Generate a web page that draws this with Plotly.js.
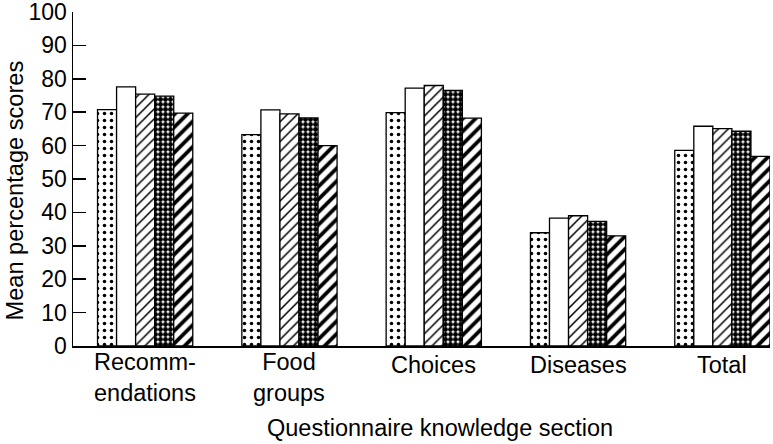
<!DOCTYPE html>
<html>
<head>
<meta charset="utf-8">
<script src="https://cdn.plot.ly/plotly-3.0.1.min.js"></script>
<style>
  html, body { margin: 0; padding: 0; background: #fff; }
  #chart { width: 773px; height: 444px; }
</style>
</head>
<body>
<div id="chart"></div>
<script>
// knowledge sections on the x axis
var sections = ['Recommendations', 'Food groups', 'Choices', 'Diseases', 'Total'];
// printed labels as they are split in the figure
var sectionLabels = ['Recomm-<br>endations', 'Food<br>groups', 'Choices', 'Diseases', 'Total'];

// mean percentage scores, one array per bar in each group (left to right)
var group1 = [70.8, 63.3, 69.9, 33.9, 58.6];
var group2 = [77.6, 70.7, 77.2, 38.3, 65.8];
var group3 = [75.4, 69.5, 78.0, 39.0, 65.1];
var group4 = [74.8, 68.3, 76.5, 37.3, 64.3];
var group5 = [69.7, 60.0, 68.2, 33.0, 56.8];

var yTicks = [0, 10, 20, 30, 40, 50, 60, 70, 80, 90, 100];

var outline = {color: '#000', width: 1.3};

function barTrace (name, vals, pattern) {
    return {
        type: 'bar',
        name: name,
        x: sections,
        y: vals,
        marker: {color: '#fff', line: outline, pattern: pattern}
    };
}

var data = [
    barTrace('1', group1, {shape: '.', fgcolor: '#000', bgcolor: '#fff', size: 7, solidity: 0.2}),
    barTrace('2', group2, {shape: ''}),
    barTrace('3', group3, {shape: '/', fgcolor: '#000', bgcolor: '#fff', size: 7, solidity: 0.22}),
    barTrace('4', group4, {shape: '.', fgcolor: '#000', bgcolor: '#fff', size: 5, solidity: 0.75}),
    barTrace('5', group5, {shape: '/', fgcolor: '#000', bgcolor: '#fff', size: 9, solidity: 0.42})
];

// category labels under each group
var annots = [];
for (var i = 0; i < sections.length; i++) {
    var twoLines = sectionLabels[i].indexOf('<br>') >= 0;
    annots.push({
        text: sectionLabels[i], xref: 'x', yref: 'paper', x: i,
        y: twoLines ? -0.0958 : -0.058,
        xanchor: 'center', yanchor: 'middle', showarrow: false, font: {size: 23.5}
    });
}
// axis titles
annots.push({
    text: 'Questionnaire knowledge section',
    xref: 'paper', yref: 'paper', x: 0.526, y: -0.247,
    xanchor: 'center', yanchor: 'middle', showarrow: false, font: {size: 23.5}
});
annots.push({
    text: 'Mean percentage scores',
    xref: 'paper', yref: 'paper', x: -0.083, y: 0.466, textangle: -90,
    xanchor: 'center', yanchor: 'middle', showarrow: false, font: {size: 23.6}
});

var layout = {
    width: 773,
    height: 444,
    margin: {l: 73, r: 3, t: 12, b: 98},
    paper_bgcolor: '#fff',
    plot_bgcolor: '#fff',
    showlegend: false,
    barmode: 'group',
    bargap: 0.34,
    bargroupgap: 0,
    font: {family: 'Liberation Sans, Arial, sans-serif', color: '#000', size: 22},
    xaxis: {
        range: [-0.5, 4.33],
        showline: true,
        linecolor: '#000',
        linewidth: 1.5,
        ticks: '',
        showticklabels: false,
        showgrid: false,
        zeroline: false
    },
    yaxis: {
        range: [0, 100],
        tickvals: yTicks,
        showline: true,
        linecolor: '#000',
        linewidth: 1.5,
        ticks: 'inside',
        ticklen: 13,
        tickwidth: 1.5,
        tickcolor: '#000',
        showgrid: false,
        zeroline: false,
        ticklabeloverflow: 'allow',
        tickfont: {size: 23}
    },
    annotations: annots
};

Plotly.newPlot('chart', data, layout, {displayModeBar: false, staticPlot: true});
</script>
</body>
</html>
